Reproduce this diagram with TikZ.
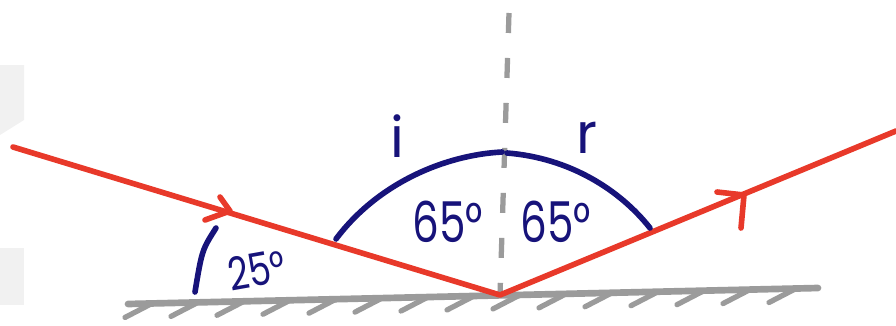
\documentclass[tikz,border=0pt]{standalone}
\usepackage{fontspec}
\setmainfont{Poppins}
\usepackage{graphicx}
\usepackage{tikz}
\usetikzlibrary{calc}
\definecolor{rayred}{HTML}{E8392A}
\definecolor{inknavy}{HTML}{17137A}
\definecolor{mirrorgrey}{HTML}{9B9B9B}
\definecolor{panelgrey}{HTML}{F1F1F1}

\begin{document}
\begin{tikzpicture}[
  x=0.02cm, y=-0.02cm,
  ray/.style={draw=rayred, line width=3.2pt, line cap=round, line join=round},
  ink/.style={draw=inknavy, line width=3.2pt, line cap=round},
  mirror/.style={draw=mirrorgrey, line width=3.8pt, line cap=round},
  hatch/.style={draw=mirrorgrey, line width=3pt, line cap=round},
  normal/.style={draw=mirrorgrey, line width=3pt, dash pattern=on 0.4cm off 0.5cm},
  lbl/.style={text=inknavy, font=\fontsize{32}{32}\selectfont, inner sep=0pt}
]
\useasboundingbox (0,0) rectangle (896,325);
\fill[panelgrey] (0,65) -- (24,65) -- (24,120) -- (0,135) -- cycle;
\fill[panelgrey] (0,248) rectangle (24,305);

\coordinate (mL) at (128,304);
\coordinate (mR) at (818,288);
\coordinate (O) at (500,295);
\coordinate (src) at (13,147);
\coordinate (out) at (896,131);
\coordinate (ntop) at (509,13);
\coordinate (tipA) at (230,211);
\coordinate (tipB) at (744,195);

\path[normal] (ntop) -- (O);
\path[mirror] (mL) -- (mR);
\foreach \k in {0,...,14}
  \path[hatch] ($(mL)!{(24+46*\k)/690}!(mR)$) -- ++(-27,14);

\path[ray] (src) -- (O) -- (out);
\path[ray] (tipA) -- +(-10,-14) (tipA) -- +(-25,9);
\path[ray] (tipB) -- +(-27,-3) (tipB) -- +(-3,33);

\path[ink] (336,239) .. controls (378,183) and (445,155) .. (502,152);
\path[ink] (507,153) .. controls (570,158) and (620,190) .. (650,228);
\path[ink] (216,228) .. controls (202,250) .. (195,292);

\node[lbl] (inc) at (397,136) {i};
\node[lbl] (refl) at (587,138) {r};
\node[lbl] (angI) at (448,222) {\scalebox{0.75}[1]{65°}};
\node[lbl] (angR) at (556,222) {\scalebox{0.75}[1]{65°}};
\node[lbl, font=\fontsize{26}{26}\selectfont, rotate=10] (glance) at (257,270) {\scalebox{0.78}[1]{25°}};
\end{tikzpicture}
\end{document}
